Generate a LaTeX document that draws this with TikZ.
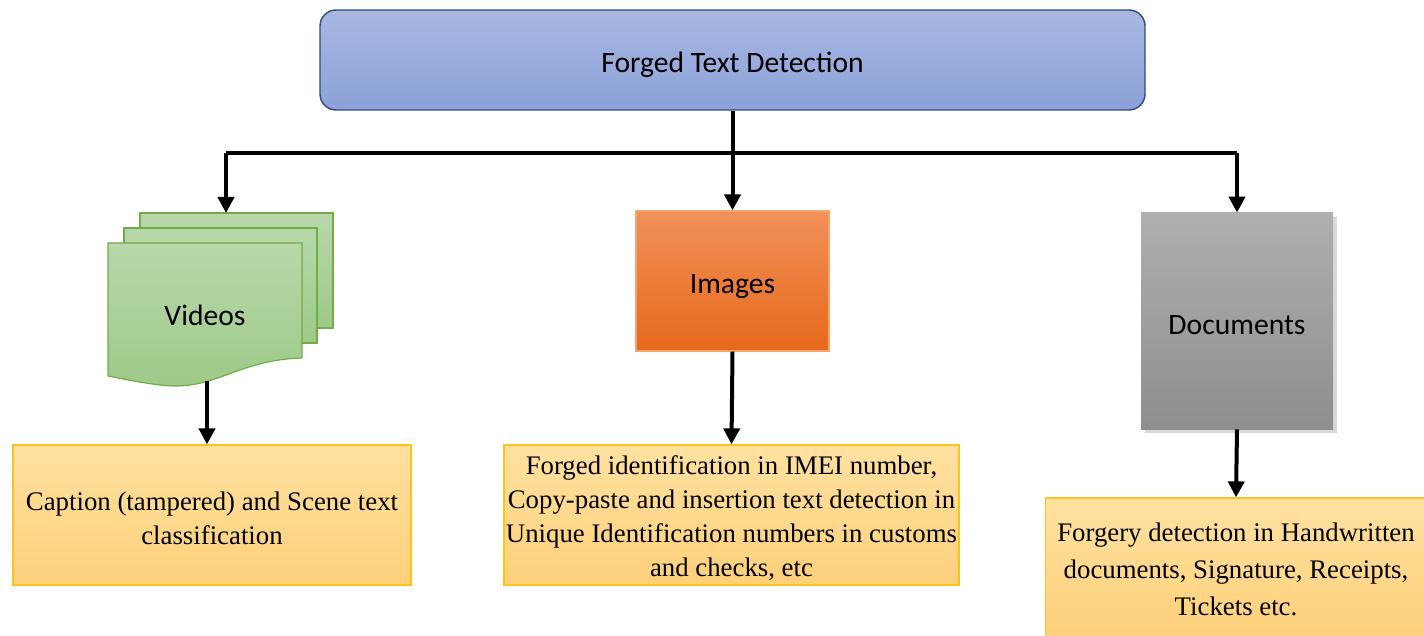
\documentclass[tikz,border=0pt]{standalone}
\usepackage{fontspec}
\setmainfont{Liberation Serif}
\newfontfamily\calib{Carlito}
\usetikzlibrary{arrows.meta,shadows}
\definecolor{topA}{HTML}{A9B8E2}
\definecolor{topB}{HTML}{8BA1D8}
\definecolor{topE}{HTML}{2F4A7E}
\definecolor{imgA}{HTML}{F19159}
\definecolor{imgB}{HTML}{E7691B}
\definecolor{imgE}{HTML}{F4A46E}
\definecolor{docA}{HTML}{AFAFAF}
\definecolor{docB}{HTML}{8E8E8E}
\definecolor{capA}{HTML}{FFE1A0}
\definecolor{capB}{HTML}{FDD07A}
\definecolor{capE}{HTML}{FFC21A}
\definecolor{vidA}{HTML}{B8D8AA}
\definecolor{vidB}{HTML}{9DC987}
\definecolor{vidE}{HTML}{70AD47}
\newcommand{\lowr}[2]{\raisebox{-#1}[\height][\depth]{#2}}
\tikzset{
  conn/.style={line width=2pt},
  arr/.style={line width=2pt,-{Triangle[width=8pt,length=8pt]}},
  captionbox/.style={draw=capE,line width=0.6pt,top color=capA,bottom color=capB,align=center,font=\fontsize{13.4}{17}\selectfont,inner sep=0pt},
  vidsheet/.style={draw=vidE,line width=0.6pt,top color=vidA,bottom color=vidB},
  sanslabel/.style={font=\calib\fontsize{14.8}{17}\selectfont}
}
\begin{document}
\begin{tikzpicture}[x=0.5pt,y=-0.5pt]
\useasboundingbox (0,0) rectangle (1424,636);
\clip (0,0) rectangle (1424,636);
% top
\node[draw=topE,line width=0.7pt,rounded corners=8pt,top color=topA,bottom color=topB,minimum width=412.5pt,minimum height=50pt,sanslabel] (top) at (732.5,60) {\lowr{2.5pt}{Forged Text Detection}};
% videos stack
\draw[vidsheet] (140,213) rectangle (333,328);
\draw[vidsheet] (124,228) rectangle (317,343);
\draw[vidsheet] (108,243) -- (302,243) -- (302,358) .. controls (235,360) and (215,392) .. (160,385) .. controls (135,382) and (120,378) .. (108,376) -- cycle;
\node[sanslabel] (vid) at (205,314) {\lowr{0.5pt}{Videos}};
\coordinate (vtop) at (226,213);
\coordinate (vbot) at (207,381);
% images
\node[draw=imgE,line width=0.6pt,top color=imgA,bottom color=imgB,minimum width=96.5pt,minimum height=70pt,sanslabel] (img) at (732.5,281) {\lowr{3pt}{Images}};
% documents
\node[top color=docA,bottom color=docB,minimum width=96pt,minimum height=108pt,sanslabel,drop shadow={opacity=0.3,shadow xshift=2pt,shadow yshift=-2pt}] (doc) at (1237,321) {\lowr{2pt}{Documents}};
% captions
\node[captionbox,minimum width=199pt,minimum height=70pt] (cap1) at (212,515) {\lowr{1.5pt}{\parbox{199pt}{\centering Caption (tampered) and Scene text\\classification}}};
\node[captionbox,minimum width=227.5pt,minimum height=70pt] (cap2) at (731.5,515) {\lowr{1.5pt}{\parbox{227.5pt}{\centering Forged identification in IMEI number,\\Copy-paste and insertion text detection in\\Unique Identification numbers in customs\\and checks, etc}}};
\node[captionbox,minimum width=190.5pt,minimum height=70pt] (cap3) at (1236,568) {\lowr{0.5pt}{\parbox{190.5pt}{\centering\fontsize{13.4}{18.5}\selectfont Forgery detection in Handwritten\\documents, Signature, Receipts,\\Tickets etc.}}};
% connectors
\draw[conn] (top.south) -- ++(0,42) coordinate (jn);
\draw[conn] (jn -| vtop) -- (jn -| doc.north);
\draw[arr] (jn -| vtop) -- (vtop);
\draw[arr] (jn) -- (img.north);
\draw[arr] (jn -| doc.north) -- (doc.north);
\draw[arr] (vbot) -- (vbot |- cap1.north);
\draw[arr] (img.south) -- (cap2.north);
\draw[arr] (doc.south) -- (cap3.north);
\end{tikzpicture}
\end{document}
